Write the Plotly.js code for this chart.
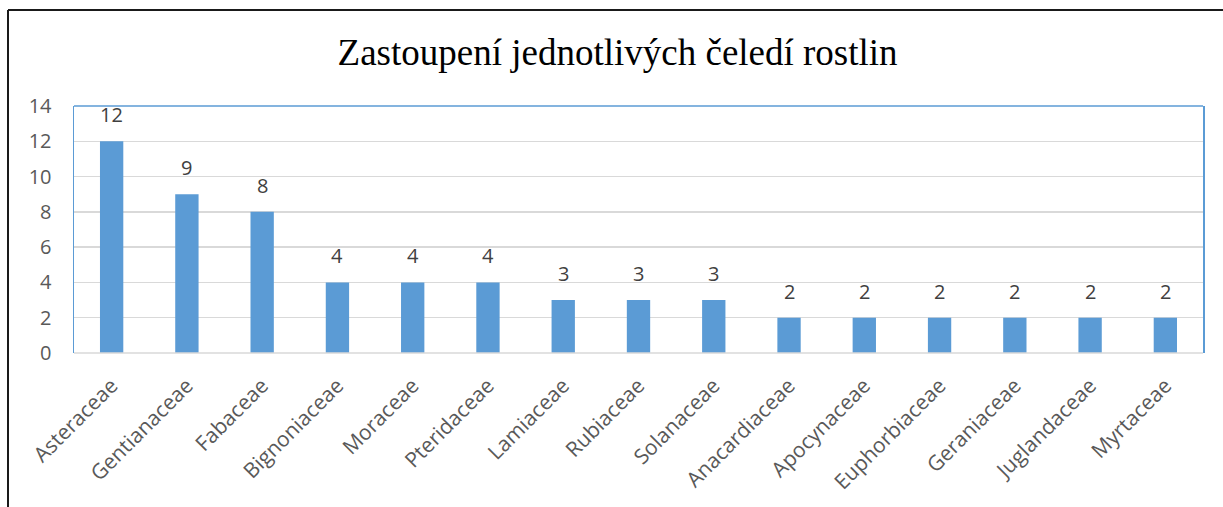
<!DOCTYPE html>
<html>
<head>
<meta charset="utf-8">
<script src="https://cdn.plot.ly/plotly-3.0.1.min.js"></script>
<style>html,body{margin:0;padding:0;background:#fff;}</style>
</head>
<body>
<div id="chart" style="width:1223px;height:507px;"></div>
<script>
const categories = ["Asteraceae","Gentianaceae","Fabaceae","Bignoniaceae","Moraceae","Pteridaceae","Lamiaceae","Rubiaceae","Solanaceae","Anacardiaceae","Apocynaceae","Euphorbiaceae","Geraniaceae","Juglandaceae","Myrtaceae"];
const counts = [12, 9, 8, 4, 4, 4, 3, 3, 3, 2, 2, 2, 2, 2, 2];
const yTicks = [0, 2, 4, 6, 8, 10, 12, 14];
const titleText = "Zastoupení jednotlivých čeledí rostlin";

const barColor = "#5B9BD5";
const trace = {
  type: "bar",
  x: categories,
  y: counts,
  marker: {color: barColor},
  hoverinfo: "skip"
};

const annotations = categories.map((c, i) => ({
  x: c, y: counts[i], xref: "x", yref: "y",
  text: String(counts[i]), showarrow: false,
  yanchor: "bottom", yshift: 11,
  font: {family: "Open Sans", size: 20, color: "#404040"}
}));

const L = 74, R = 1203, T = 106, B = 353;
const pw = R - L, ph = B - T;
const shapes = [
  {type: "line", xref: "paper", yref: "paper", x0: 0, x1: 1, y0: 1, y1: 1, line: {color: "#5B9BD5", width: 1.5}},
  {type: "line", xref: "paper", yref: "paper", x0: 0, x1: 1, y0: 0, y1: 0, line: {color: "#D9D9D9", width: 1.5}},
  {type: "line", xref: "paper", yref: "paper", x0: (8 - L) / pw, x1: (8 - L) / pw, y0: 1 + (T - 10) / ph, y1: 1 - (507 - T + 5) / ph, line: {color: "#1a1a1a", width: 2}},
  {type: "line", xref: "paper", yref: "paper", x0: (8 - L) / pw, x1: (1230 - L) / pw, y0: 1 + (T - 10) / ph, y1: 1 + (T - 10) / ph, line: {color: "#1a1a1a", width: 2}}
];

const layout = {
  width: 1223, height: 507,
  margin: {l: L, r: 1223 - R, t: T, b: 507 - B, pad: 0},
  paper_bgcolor: "#fff", plot_bgcolor: "#fff",
  showlegend: false,
  bargap: 0.69,
  title: {
    text: titleText,
    font: {family: "Liberation Serif", size: 37, color: "#000"},
    x: 0.505, xanchor: "center", xref: "container",
    y: 1 - 52 / 507, yanchor: "middle", yref: "container"
  },
  xaxis: {
    type: "category",
    tickangle: -45,
    tickfont: {family: "Open Sans", size: 21, color: "#595959"},
    showgrid: false, showline: false, zeroline: false,
    ticks: "outside", ticklen: 11, tickcolor: "rgba(0,0,0,0)",
    fixedrange: true
  },
  yaxis: {
    range: [0, 14],
    tickvals: yTicks,
    ticktext: yTicks.map(String),
    tickfont: {family: "Open Sans", size: 20, color: "#595959"},
    showgrid: true, gridcolor: "#D9D9D9", gridwidth: 1.5,
    zeroline: false,
    showline: true, mirror: true, linecolor: "#5B9BD5", linewidth: 1.5,
    ticks: "outside", ticklen: 17, tickcolor: "rgba(0,0,0,0)",
    fixedrange: true
  },
  annotations: annotations,
  shapes: shapes
};

Plotly.newPlot("chart", [trace], layout, {displayModeBar: false, staticPlot: true});
</script>
</body>
</html>
